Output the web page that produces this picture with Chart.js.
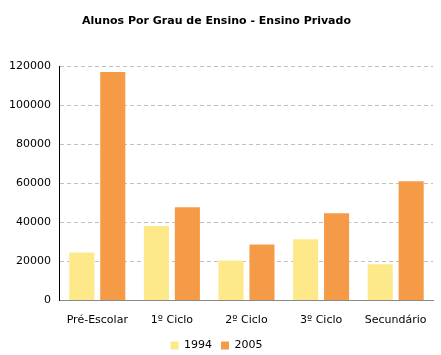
<!DOCTYPE html>
<html><head><meta charset="utf-8">
<script src="https://cdn.jsdelivr.net/npm/chart.js@4"></script>
<style>html,body{margin:0;padding:0;background:#fff}#wrap{width:441px;height:355px}</style>
</head><body><div id="wrap"><canvas id="c"></canvas></div>
<script>
const categories = ["Pré-Escolar", "1º Ciclo", "2º Ciclo", "3º Ciclo", "Secundário"];
const seriesNames = ["1994", "2005"];
const values1994 = [24600, 38100, 20500, 31300, 18500];
const values2005 = [117000, 47700, 28700, 44600, 61000];
const yTicks = [0, 20000, 40000, 60000, 80000, 100000, 120000];

Chart.defaults.font.family = "'DejaVu Sans', Verdana, sans-serif";
Chart.defaults.color = "#000";
new Chart(document.getElementById('c'), {
  type: 'bar',
  data: {
    labels: categories,
    datasets: [
      {label: seriesNames[0], data: values1994, backgroundColor: '#FDE98A', categoryPercentage: 0.83, barPercentage: 0.81},
      {label: seriesNames[1], data: values2005, backgroundColor: '#F59B47', categoryPercentage: 0.83, barPercentage: 0.81}
    ]
  },
  options: {
    responsive: true, maintainAspectRatio: false, animation: false,
    layout: {padding: {left: 0, right: 8, top: 0, bottom: -6}},
    plugins: {
      title: {display: true, text: 'Alunos Por Grau de Ensino - Ensino Privado', font: {size: 11, weight: 'bold'}, padding: {top: 15, bottom: 38}},
      legend: {position: 'bottom', labels: {boxWidth: 8, boxHeight: 8, font: {size: 11, lineHeight: 1}, padding: 9}},
      tooltip: {enabled: false}
    },
    scales: {
      x: {
        grid: {display: false},
        border: {color: '#888', width: 1},
        ticks: {font: {size: 11, lineHeight: 0.6}, padding: 8, maxRotation: 0}
      },
      y: {
        min: 0, max: 120000,
        afterBuildTicks: (ax) => { ax.ticks = yTicks.map(v => ({value: v})); },
        grid: {color: '#c0c0c0', drawTicks: false},
        border: {color: '#000', width: 1, dash: [4, 3]},
        ticks: {font: {size: 11}, padding: 9, callback: (v) => String(v)}
      }
    }
  }
});
</script></body></html>
